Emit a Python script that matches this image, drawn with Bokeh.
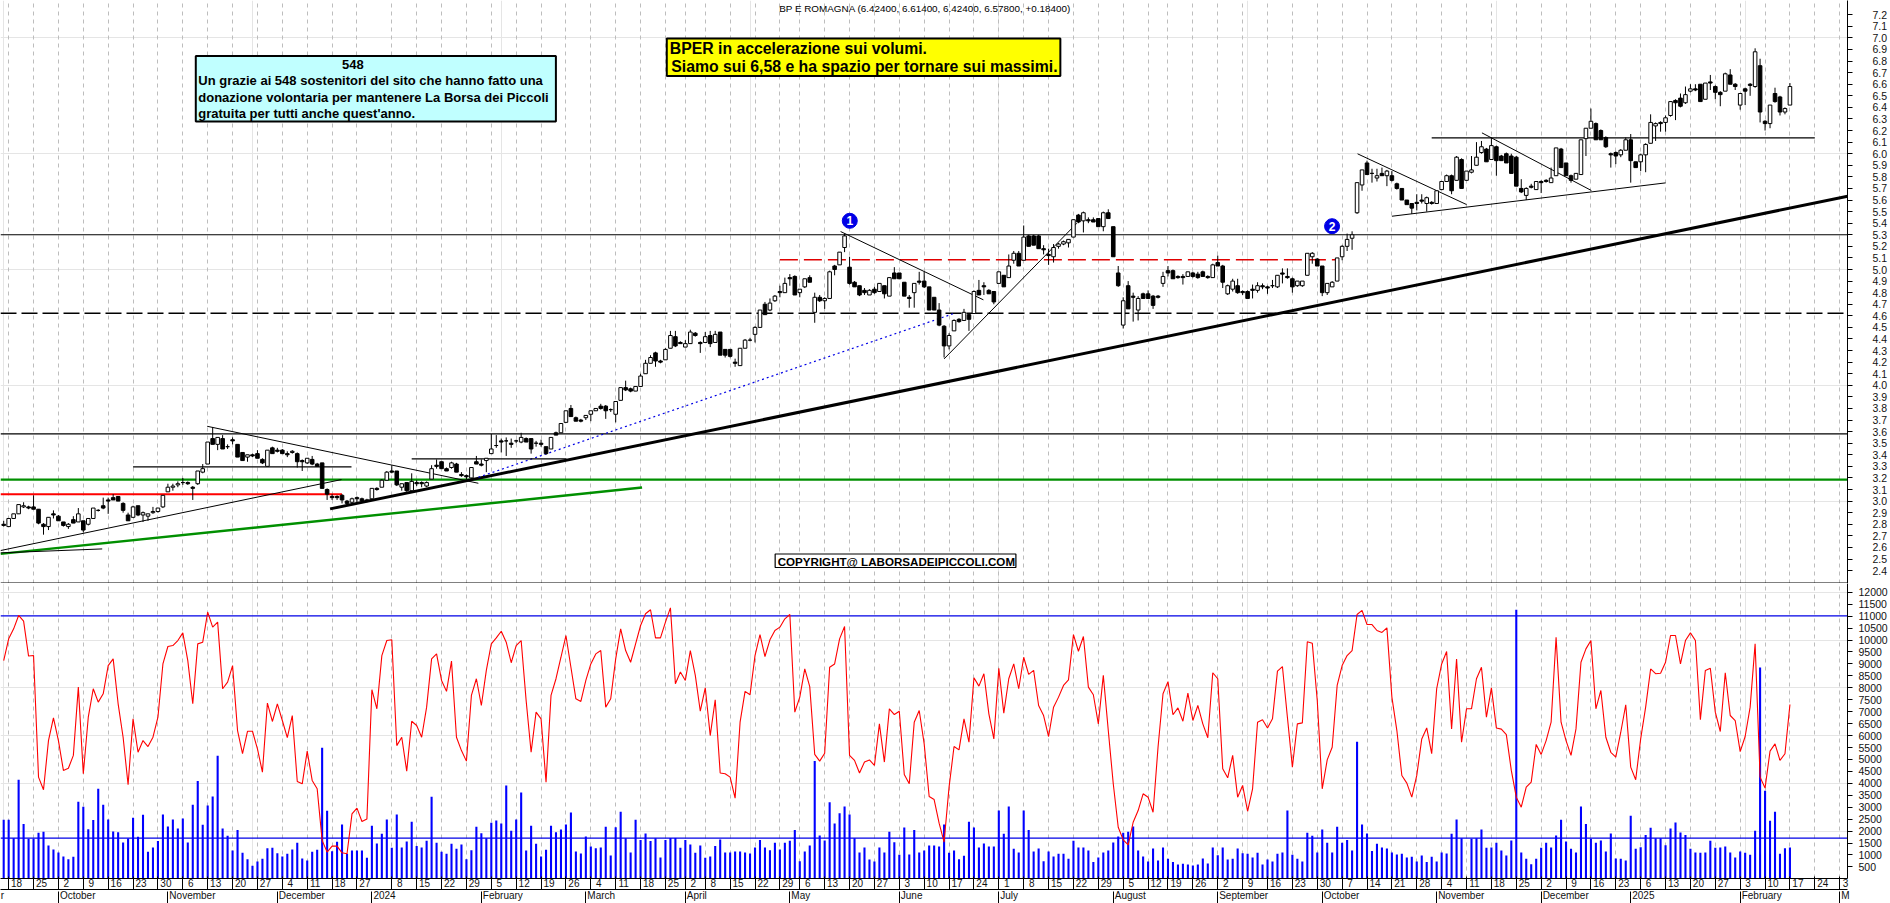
from bokeh.plotting import figure
from bokeh.layouts import column
from bokeh.models import Range1d, LinearAxis, FixedTicker, Grid, Span, BoxAnnotation, Label, NumeralTickFormatter
from bokeh.embed import file_html
from bokeh.resources import INLINE

opens = [2.80,2.78,2.85,2.89,2.95,2.95,2.95,2.93,2.80,2.78,
2.89,2.87,2.82,2.78,2.84,2.82,2.83,2.80,2.85,2.92,
2.96,3.01,3.03,3.04,2.98,2.88,2.86,2.96,2.88,2.87,
2.90,2.91,2.95,3.08,3.12,3.14,3.16,3.16,3.12,3.15,
3.25,3.32,3.54,3.49,3.54,3.47,3.53,3.49,3.42,3.38,
3.40,3.41,3.36,3.30,3.46,3.44,3.44,3.41,3.42,3.41,
3.35,3.33,3.36,3.32,3.33,3.10,3.04,3.04,3.05,3.00,
2.99,3.03,3.02,3.01,3.02,3.11,3.12,3.18,3.26,3.26,
3.12,3.16,3.09,3.16,3.16,3.13,3.19,3.31,3.34,3.28,
3.29,3.32,3.23,3.22,3.20,3.34,3.32,3.35,3.41,3.48,
3.52,3.52,3.50,3.52,3.51,3.54,3.54,3.50,3.50,3.47,
3.45,3.59,3.59,3.68,3.80,3.72,3.70,3.72,3.75,3.78,
3.82,3.82,3.79,3.75,3.87,3.98,3.97,3.95,3.99,4.10,
4.19,4.28,4.21,4.22,4.32,4.42,4.37,4.33,4.36,4.45,
4.37,4.37,4.43,4.37,4.46,4.31,4.31,4.20,4.17,4.32,
4.39,4.44,4.50,4.70,4.65,4.73,4.81,4.80,4.93,4.94,
4.80,4.85,4.93,4.63,4.76,4.73,4.75,5.03,5.04,5.19,
5.02,4.89,4.86,4.82,4.78,4.83,4.81,4.86,4.77,4.97,
4.97,4.89,4.76,4.80,4.90,4.90,4.85,4.76,4.65,4.51,
4.34,4.47,4.57,4.56,4.61,4.62,4.82,4.86,4.82,4.81,
4.88,4.95,4.93,5.08,5.14,5.08,5.29,5.29,5.29,5.18,
5.13,5.11,5.20,5.22,5.23,5.28,5.47,5.42,5.43,5.43,
5.44,5.37,5.49,5.37,4.97,4.52,4.86,4.77,4.65,4.79,
4.79,4.77,4.77,4.88,4.99,4.99,4.94,4.94,4.94,
4.97,4.96,4.98,4.94,4.93,5.06,5.03,4.79,4.83,4.86,
4.81,4.81,4.83,4.82,4.86,4.85,4.86,4.85,4.97,4.94,
4.92,4.86,4.86,4.95,5.11,5.09,5.03,4.80,4.85,4.90,
5.11,5.20,5.27,5.49,5.73,5.92,5.83,5.79,5.83,5.81,
5.81,5.74,5.70,5.60,5.57,5.58,5.60,5.57,5.58,5.57,
5.69,5.76,5.81,5.77,5.95,5.77,5.84,5.90,6.01,6.04,
5.95,6.06,5.98,6.00,5.98,5.97,5.70,5.64,5.72,5.69,
5.76,5.77,5.75,5.81,6.04,5.92,5.81,5.78,5.82,6.13,
6.22,6.26,6.20,6.14,6.00,6.01,5.99,6.03,6.12,5.93,
5.93,5.99,6.09,6.24,6.27,6.27,6.33,6.46,6.48,6.44,
6.54,6.56,6.60,6.47,6.62,6.58,6.53,6.54,6.68,6.60,
6.42,6.56,6.60,6.58,6.76,6.28,6.26,6.52,6.49,6.36,6.42]

highs = [2.83,2.85,2.89,2.97,2.99,2.96,3.05,2.93,2.81,2.86,
2.92,2.88,2.82,2.81,2.87,2.94,2.83,2.85,2.94,2.93,
3.03,3.03,3.06,3.04,2.99,2.90,2.96,2.96,2.91,2.89,
2.95,2.94,3.05,3.15,3.15,3.17,3.20,3.17,3.13,3.26,
3.32,3.51,3.64,3.55,3.57,3.49,3.55,3.49,3.42,3.40,
3.41,3.44,3.37,3.44,3.47,3.46,3.45,3.43,3.44,3.42,
3.36,3.37,3.39,3.33,3.33,3.11,3.06,3.05,3.06,3.01,
3.03,3.04,3.03,3.02,3.11,3.12,3.19,3.26,3.31,3.26,
3.15,3.16,3.24,3.18,3.17,3.17,3.31,3.36,3.34,3.29,
3.34,3.33,3.25,3.23,3.29,3.39,3.36,3.37,3.58,3.57,
3.54,3.55,3.54,3.53,3.59,3.55,3.54,3.52,3.53,3.47,
3.55,3.60,3.67,3.78,3.83,3.73,3.71,3.74,3.78,3.80,
3.84,3.83,3.80,3.86,3.98,4.04,3.98,3.99,4.10,4.22,
4.26,4.29,4.22,4.32,4.47,4.47,4.38,4.39,4.48,4.46,
4.38,4.46,4.47,4.47,4.46,4.31,4.31,4.23,4.32,4.40,
4.41,4.51,4.65,4.72,4.75,4.78,4.86,4.93,4.96,4.95,
4.83,4.92,4.95,4.80,4.78,4.76,4.99,5.04,5.15,5.31,
5.11,4.90,4.86,4.84,4.83,4.85,4.88,4.86,4.93,5.02,
4.97,4.89,4.78,4.88,4.98,4.98,4.85,4.76,4.71,4.52,
4.45,4.57,4.58,4.66,4.62,4.82,4.91,4.89,4.83,4.81,
4.98,4.95,5.13,5.16,5.16,5.38,5.30,5.30,5.30,5.21,
5.18,5.22,5.23,5.25,5.26,5.43,5.48,5.50,5.45,5.45,
5.44,5.50,5.52,5.37,5.03,4.76,4.90,4.80,4.77,4.80,
4.82,4.78,4.78,4.98,5.03,5.00,4.95,4.96,4.98,
4.98,4.98,4.99,4.95,5.05,5.12,5.04,4.87,4.92,4.92,
4.82,4.82,4.87,4.89,4.88,4.86,4.91,4.95,5.01,5.01,
4.93,4.90,4.90,5.14,5.15,5.10,5.03,4.88,4.90,5.10,
5.21,5.31,5.33,5.75,5.86,5.94,5.87,5.87,5.88,5.86,
5.85,5.75,5.70,5.60,5.57,5.65,5.65,5.63,5.59,5.68,
5.76,5.82,5.82,5.98,5.96,5.85,5.98,6.10,6.11,6.05,
6.14,6.07,5.99,6.01,6.00,5.98,5.78,5.71,5.74,5.76,
5.77,5.78,5.88,6.05,6.05,5.92,5.82,5.83,6.12,6.22,
6.39,6.27,6.21,6.15,6.01,6.02,6.04,6.14,6.17,5.93,
6.00,6.09,6.34,6.27,6.28,6.33,6.45,6.47,6.52,6.58,
6.60,6.60,6.60,6.61,6.68,6.59,6.54,6.70,6.73,6.61,
6.52,6.57,6.61,6.91,6.82,6.29,6.42,6.57,6.50,6.40,6.61]

lows = [2.78,2.78,2.85,2.89,2.94,2.93,2.93,2.80,2.71,2.75,
2.85,2.83,2.78,2.76,2.81,2.82,2.73,2.79,2.85,2.91,
2.93,2.89,3.01,3.00,2.90,2.83,2.86,2.87,2.82,2.83,
2.89,2.90,2.94,3.08,3.09,3.12,3.14,3.14,3.01,3.14,
3.24,3.32,3.49,3.44,3.45,3.45,3.49,3.38,3.35,3.34,
3.38,3.37,3.32,3.30,3.41,3.42,3.41,3.38,3.41,3.29,
3.26,3.32,3.31,3.30,3.11,3.01,3.01,3.01,2.98,2.97,
2.97,2.99,3.00,2.99,3.02,3.09,3.12,3.18,3.24,3.13,
3.09,3.08,3.09,3.13,3.12,3.12,3.19,3.28,3.28,3.26,
3.28,3.25,3.21,3.19,3.19,3.32,3.30,3.25,3.41,3.46,
3.42,3.39,3.46,3.50,3.50,3.51,3.41,3.47,3.47,3.40,
3.45,3.57,3.59,3.68,3.73,3.69,3.68,3.70,3.69,3.78,
3.79,3.71,3.77,3.68,3.87,3.95,3.94,3.95,3.99,4.10,
4.19,4.16,4.19,4.22,4.32,4.33,4.36,4.33,4.36,4.42,
4.28,4.37,4.33,4.37,4.26,4.24,4.24,4.16,4.17,4.32,
4.38,4.37,4.50,4.61,4.64,4.72,4.76,4.80,4.86,4.78,
4.76,4.84,4.89,4.54,4.72,4.66,4.75,4.95,5.04,5.15,
4.87,4.85,4.77,4.78,4.78,4.79,4.81,4.75,4.77,4.92,
4.92,4.77,4.67,4.67,4.87,4.84,4.65,4.65,4.51,4.24,
4.31,4.47,4.54,4.56,4.47,4.62,4.78,4.78,4.79,4.70,
4.88,4.85,4.93,5.05,5.03,5.08,5.20,5.21,5.18,5.13,
5.04,5.06,5.18,5.21,5.19,5.28,5.40,5.32,5.40,5.41,
5.37,5.33,5.44,5.11,4.85,4.49,4.66,4.55,4.56,4.75,
4.75,4.66,4.75,4.85,4.94,4.92,4.92,4.87,4.94,
4.93,4.92,4.94,4.92,4.93,5.03,4.84,4.78,4.81,4.79,
4.78,4.75,4.75,4.80,4.83,4.79,4.84,4.84,4.88,4.92,
4.80,4.85,4.85,4.95,5.05,5.03,4.77,4.78,4.85,4.90,
5.08,5.16,5.17,5.48,5.68,5.82,5.75,5.76,5.81,5.72,
5.76,5.69,5.60,5.56,5.48,5.51,5.57,5.50,5.56,5.57,
5.69,5.76,5.65,5.77,5.70,5.77,5.83,5.90,6.00,5.93,
5.95,5.81,5.94,5.92,5.83,5.72,5.66,5.60,5.70,5.69,
5.66,5.75,5.75,5.81,5.88,5.81,5.75,5.78,5.82,5.98,
6.22,6.12,6.12,6.05,5.88,5.91,5.97,6.03,5.75,5.88,
5.85,5.84,6.09,6.11,6.19,6.19,6.32,6.29,6.40,6.43,
6.53,6.54,6.45,6.47,6.55,6.47,6.41,6.54,6.60,6.55,
6.38,6.42,6.50,6.57,6.27,6.20,6.22,6.44,6.33,6.34,6.42]

closes = [2.79,2.85,2.89,2.97,2.96,2.94,2.93,2.81,2.78,2.86,
2.88,2.83,2.79,2.80,2.81,2.89,2.75,2.85,2.94,2.92,
2.94,3.00,3.01,3.00,2.92,2.83,2.95,2.88,2.90,2.89,
2.91,2.94,3.05,3.12,3.13,3.15,3.16,3.15,3.11,3.26,
3.28,3.51,3.49,3.55,3.45,3.47,3.52,3.38,3.35,3.40,
3.39,3.37,3.33,3.44,3.41,3.43,3.41,3.40,3.43,3.34,
3.34,3.37,3.32,3.30,3.11,3.06,3.03,3.03,3.01,2.98,
3.02,3.02,3.00,3.00,3.11,3.10,3.18,3.25,3.25,3.14,
3.15,3.09,3.17,3.15,3.15,3.16,3.28,3.30,3.28,3.26,
3.33,3.25,3.22,3.21,3.29,3.32,3.31,3.37,3.45,3.48,
3.51,3.52,3.49,3.52,3.55,3.51,3.45,3.50,3.49,3.41,
3.55,3.57,3.67,3.78,3.73,3.69,3.69,3.74,3.78,3.80,
3.80,3.78,3.79,3.86,3.98,3.96,3.95,3.99,4.08,4.19,
4.24,4.21,4.20,4.31,4.43,4.34,4.36,4.36,4.46,4.43,
4.36,4.42,4.36,4.44,4.26,4.26,4.25,4.19,4.32,4.39,
4.39,4.50,4.65,4.61,4.71,4.77,4.80,4.88,4.92,4.78,
4.83,4.92,4.89,4.76,4.73,4.75,4.98,5.00,5.15,5.29,
4.88,4.85,4.78,4.80,4.82,4.80,4.88,4.79,4.93,4.92,
4.92,4.77,4.75,4.88,4.89,4.85,4.65,4.65,4.52,4.34,
4.43,4.56,4.55,4.63,4.57,4.81,4.78,4.85,4.79,4.72,
4.98,4.85,5.03,5.14,5.03,5.28,5.20,5.21,5.18,5.17,
5.12,5.19,5.22,5.24,5.26,5.43,5.41,5.49,5.42,5.41,
5.37,5.49,5.44,5.11,4.86,4.73,4.66,4.76,4.75,4.75,
4.75,4.69,4.76,4.94,4.97,4.92,4.93,4.93,4.98,
4.94,4.93,4.94,4.93,5.04,5.03,4.89,4.86,4.90,4.80,
4.80,4.75,4.82,4.86,4.85,4.84,4.86,4.95,4.96,4.93,
4.85,4.90,4.90,5.14,5.14,5.03,4.80,4.88,4.89,5.10,
5.20,5.26,5.30,5.75,5.86,5.82,5.83,5.81,5.81,5.85,
5.77,5.70,5.60,5.56,5.53,5.57,5.59,5.62,5.57,5.68,
5.76,5.81,5.68,5.97,5.70,5.85,5.86,5.97,6.06,5.93,
6.07,5.94,5.94,5.92,5.83,5.72,5.67,5.70,5.71,5.76,
5.75,5.76,5.79,6.05,5.88,5.81,5.77,5.83,6.12,6.22,
6.28,6.12,6.12,6.06,5.99,5.98,6.03,6.12,5.94,5.88,
5.99,6.08,6.27,6.26,6.26,6.31,6.45,6.44,6.41,6.51,
6.56,6.55,6.45,6.61,6.61,6.53,6.51,6.69,6.60,6.58,
6.52,6.54,6.59,6.88,6.36,6.26,6.42,6.45,6.36,6.39,6.58]

volume_a = [2470,2470,1700,4150,2300,1680,1680,1930,1970,1400,1230,1100,935,820,920,3225,3015,2080,2460,3770,
3100,2485,1980,1950,1520,1690,2555,1760,2680,1130,1310,1580,2695,2190,2485,2110,2525,1520,3100,4100,
2260,3070,3450,5150,2110,1800,1190,2050,1090,820,545,725,840,1285,1300,1075,935,1050,1230,1510,
850,770,1130,1215,5490,2850,1160,1550,2275,1050,1190,1190,1190,880,2220,1480,1885,2485,1300,2695,
1310,1565,2390,1380,1310,1590,3435,1510,1130,1050,1465,1255,1440,820,1200,2180,1910,1700,2345,2440,
2320,3910,2010,2485,3615,1190,2220,1465,935,1215,2220,1950,2065,2275,2780,1145,1060,1775,1355,1285,
1310,2180,975,2165,2805,1700]
volume_b = [1100,2470,1630,1900,1580,1700,890,1630,1715,1715,1300,1630,1440,1090,1400,880,935,1380,1650,1100,
1100,1145,1145,1100,1060,1310,1630,1310,1200,1510,1230,1510,1590,2050,740,1145,1400,4940,1815,1605,
3210,2320,2750,3030,2695,1700,1100,1310,810,725,1310,1100,1970,1535,1005,2150,1020,2050,1100,1190,
1400,1400,1355,2275,1090,1190,820,965,2390,2150,1310,1480,1355,1355,2860,1885,3030,1255,1100,2860,
2050,1145,1270,740,1145,935,1050,1050,840,1590,1310,1310,1190,700,890,1100,1190,1520,1775,1925,
1970,2190,1190,935,725,1270,770,1310,840,700,600,630,600,560,600,850,640,1310,990,1310,
810,840,1270,1075,1050,890,1090]
volume_c = [600,810,725,1050,1100,2860,1005,840,725,1925,1800,1100,2065,1510,1100,2180,1510,1630,1190,5740,
2275,1900,1170,1465,1310,1270,1100,1020,1050,890,920,725,975,700,920,725,1100,1060,1885,2485,
1700,0,1675,1700,2065,1300,1310,1510,1190,975,1605,11270,1100,840,615,840,1300,1510,1310,1815,
2470,1565,1255,1100,3030,2300,1675,1510,1605,1145,1900,850,840,770,2640,1255,1325,1840,2135,1700,
1700,1410,2110,2360,1940,1840,1255,1100,1090,1100,1590,1300,1310,1355,1100,890,1145,1090,1005,2010,
8850,3685,2430,2805,1050,1285,1310]

indicator_a = [9140,10050,10470,11030,10790,9330,9350,4260,3730,5790,6740,5790,4540,4630,5170,8030,4400,6770,7960,7400,
7750,8930,9210,7330,5930,3940,6700,5300,5790,5540,5930,6770,9000,9730,9770,9980,10300,9140,7330,9840,
9910,11170,10540,10750,7960,8240,8930,6210,5240,6180,6180,5440,4470,7360,6590,7330,6630,5910,6840,4080,
3980,5350,4120,3770,1610,1120,1370,1370,1090,1050,2720,2960,2400,2510,7920,7120,9350,9980,10010,5580,
5930,4510,6600,6420,5930,7190,9210,9420,8310,7850,9120,5930,5370,4930,7680,8380,7260,8730,9840,10090,
10370,9910,9050,9770,9980,7470,5300,6980,6700,4050,7680,8380,9280,10190,8860,7540,7430,8310,9000,9420,
9560,7190,7540,9210,10470,9560]
indicator_b = [9070,9840,10610,11100,11270,10090,10090,10750,11350,8170,8660,8310,9560,8520,7020,8000,6000,7500,4430,4400,
4260,3380,6560,7850,7710,9350,10230,9310,10010,10400,10540,10890,11070,6980,7610,8790,8050,5210,4930,5260,
8860,9000,10050,10570,5170,4960,4430,4890,4980,4750,6490,4890,7120,6880,7020,4370,3980,6560,7050,5650,
3450,3320,2330,1540,3840,5540,5400,6700,5720,8420,8070,8590,6910,5860,8820,6940,8380,9000,7960,9280,
8560,8730,7260,6840,5960,7190,7610,8100,8330,10230,9530,10150,8030,7710,6490,8520,6210,3980,2160,1630,
1420,2370,2860,3560,3420,2790,5510,7750,8260,6870,7160,6600,7780,6630,7260,6490,5910,8630,8380,4610,
4230,5170,3420,3910,2830,3770,6560]
indicator_c = [6660,6320,6700,8700,8890,6770,4680,6490,6530,9930,9870,7470,3770,4980,5510,8100,8930,9350,9560,11070,
11240,10650,10650,10400,10320,10510,7610,6210,4330,4010,3420,4330,5860,6320,5240,7960,9000,9520,6280,9210,
5720,7120,7120,8380,8860,6770,8000,6320,6270,6040,4540,3420,3000,3840,4050,5630,5210,5790,6560,10120,
6560,5790,5170,6280,9070,9630,9980,7120,7890,5930,5300,5100,6140,7290,4680,4150,5860,7190,8790,8590,
8610,9070,10190,10190,9000,9980,10300,9980,6660,8730,8820,6980,6170,8630,6840,6630,5330,5960,7190,9840,
4260,3800,5350,5650,4960,5240,7300]

week_index = [1,6,11,16,21,26,31,36,41,46,51,56,61,66,71,78,83,88,93,98,103,108,113,118,123,
128,133,137,141,146,151,156,160,165,170,175,180,185,190,195,200,205,210,215,220,225,230,234,239,244,249,
254,259,264,269,274,279,284,289,294,299,304,309,314,319,324,329,334,339,344,349,354,359,364,369]
week_label = ["18","25","2","9","16","23","30","6","13","20","27","4","11","18","27","8","15","22","29","5","12","19","26","4","11",
"18","25","2","8","15","22","29","6","13","20","27","3","10","17","24","1","8","15","22","29","5","12","19","26","2","9",
"16","23","30","7","14","21","28","4","11","18","25","2","9","16","23","6","13","20","27","3","10","17","24","3"]
month_index = [11,33,55,74,96,117,137,158,180,200,223,244,265,288,309,327,349,369]
month_label = ["October","November","December","2024","February","March","April","May","June","July","August","September",
"October","November","December","2025","February","M"]
price_ticks = [round(2.4 + 0.1 * k, 1) for k in range(49)]
indicator_ticks = [500 * k for k in range(1, 25)]

resistance_price = 5.30
dashed_red_price = 5.085
support_dashed_price = 4.623
upper_flat_price = 3.58
green_flat_price = 3.186
red_flat_price = 3.059
pattern_flat_a = [26.0, 69.9, 3.295]
pattern_flat_b = [82.0, 113.1, 3.364]
pattern_flat_c = [287.0, 364.0, 6.137]
trend_green = [-0.64, 2.544, 128.3, 3.117]
trend_black = [65.6, 2.933, 370.6, 5.633]
thin_trends = [[-0.64, 2.573, 67.9, 3.186], [-0.64, 2.553, 19.8, 2.587], [40.9, 3.646, 95.4, 3.154],
               [168.2, 5.328, 196.9, 4.738], [189.0, 4.228, 215.7, 5.400], [272.1, 5.999, 294.0, 5.561],
               [279.0, 5.460, 334.0, 5.748], [297.1, 6.180, 319.1, 5.682]]
trend_blue = [95.4, 3.206, 191.1, 4.622]
upper_level = 11014
lower_level = 1703

assert len(opens) == len(highs) == len(lows) == len(closes) == 360
assert (len(volume_a), len(volume_b), len(volume_c)) == (126, 127, 107)
assert (len(indicator_a), len(indicator_b), len(indicator_c)) == (126, 127, 107)
assert len(week_index) == len(week_label)

volumes = volume_a + volume_b + volume_c
indicator = indicator_a + indicator_b + indicator_c
bars = list(range(360))

BAR_PX = 4.981
X0_PX = 3.2
XS = (0 - X0_PX) / BAR_PX
XE = (1849 - X0_PX) / BAR_PX
FONT = "Liberation Sans"
BLUE = "#0000E6"
GREEN = "#008F00"
INK = "#111111"


def xd(px):
    return (px - X0_PX) / BAR_PX


def yp(py):
    return 7.323 - py / 115.8


def yi(py):
    return (835 - (py - 600) * 3) * 13.96


def base_fig(height, y0, y1):
    f = figure(width=1890, height=height, x_range=Range1d(XS, XE), y_range=Range1d(y0, y1),
               x_axis_location=None, y_axis_location=None, toolbar_location=None, output_backend="svg",
               min_border_left=0, min_border_right=41, min_border_top=0, min_border_bottom=0)
    f.outline_line_color = None
    f.add_layout(Grid(dimension=0, ticker=FixedTicker(ticks=week_index), grid_line_color="#BDBDBD",
                      grid_line_dash="4 4", grid_line_width=1))
    return f


def right_axis(f, ticks, standoff, formatter=None):
    ax = LinearAxis(ticker=FixedTicker(ticks=ticks), major_tick_out=5, major_tick_in=0,
                    major_label_standoff=standoff, major_label_text_font=FONT,
                    major_label_text_font_size="10.5px", major_label_text_color=INK,
                    axis_line_color="black", major_tick_line_color="black",
                    minor_tick_line_color=None)
    if formatter:
        ax.formatter = formatter
    f.add_layout(ax, "right")


def note(f, text, x, y, size, bold=True, align="left", color="black"):
    f.add_layout(Label(x=x, y=y, text=text, text_font=FONT, text_font_size=size,
                       text_font_style="bold" if bold else "normal", text_align=align,
                       text_baseline="middle", text_color=color))


def panel_box(f, fy, left, right, top, bottom, fill, width):
    f.add_layout(BoxAnnotation(left=xd(left), right=xd(right), top=fy(top), bottom=fy(bottom),
                               fill_color=fill, fill_alpha=1, line_color="black", line_width=width,
                               line_alpha=1))


# price panel
p1 = base_fig(583, yp(583), yp(0))
right_axis(p1, price_ticks, 20, NumeralTickFormatter(format="0.0"))

for level, color, w, dash in [(resistance_price, "black", 1.2, "solid"),
                              (support_dashed_price, "black", 1.5, "16 5"),
                              (upper_flat_price, "black", 1.2, "solid"),
                              (green_flat_price, GREEN, 2.2, "solid")]:
    p1.line([XS, XE], [level, level], line_color=color, line_width=w, line_dash=dash)
p1.line([156.0, 268.0], [dashed_red_price] * 2, line_color="#E00000", line_width=1.5, line_dash="18 6")
p1.line([XS, 68.0], [red_flat_price] * 2, line_color="#FF0000", line_width=2.2)
p1.line(trend_green[0::2], trend_green[1::2], line_color=GREEN, line_width=2.4)
p1.line(trend_black[0::2], trend_black[1::2], line_color="black", line_width=3)
for t in thin_trends:
    p1.line(t[0::2], t[1::2], line_color="black", line_width=1)
p1.line(trend_blue[0::2], trend_blue[1::2], line_color=BLUE, line_width=1.2, line_dash="2 3")
for a, b, lv in (pattern_flat_a, pattern_flat_b, pattern_flat_c):
    p1.line([a, b], [lv, lv], line_color="black", line_width=1.2)

p1.segment(bars, lows, bars, highs, line_color="black", line_width=1)
up = [i for i in bars if closes[i] >= opens[i]]
down = [i for i in bars if closes[i] < opens[i]]
p1.vbar([i for i in up], width=0.72, top=[closes[i] for i in up], bottom=[opens[i] for i in up],
        fill_color="white", line_color="black", line_width=1)
p1.vbar([i for i in down], width=0.72, top=[opens[i] for i in down], bottom=[closes[i] for i in down],
        fill_color="black", line_color="black", line_width=1)

p1.scatter([xd(850.2), xd(1333)], [yp(220.3), yp(225.7)], size=15, marker="circle",
           fill_color=BLUE, line_color=BLUE)
note(p1, "1", xd(850.2), yp(220.3), "12px", align="center", color="white")
note(p1, "2", xd(1333), yp(225.7), "12px", align="center", color="white")

p1.add_layout(Span(location=yp(582.5), dimension="width", line_color="black", line_width=1))

note(p1, "BP E ROMAGNA (6.42400, 6.61400, 6.42400, 6.57800, +0.18400)", xd(779.5), yp(8.3), "9.9px", bold=False)

panel_box(p1, yp, 195.5, 556, 55.5, 121, "#C0FFFF", 2)
note(p1, "548", xd(352.8), yp(64), "13px", align="center")
note(p1, "Un grazie ai 548 sostenitori del sito che hanno fatto una", xd(198), yp(80.3), "13px")
note(p1, "donazione volontaria per mantenere La Borsa dei Piccoli", xd(198), yp(97.3), "13px")
note(p1, "gratuita per tutti anche quest'anno.", xd(198), yp(113.3), "13px")

panel_box(p1, yp, 667, 1061, 38, 75.5, "#FFFF00", 2)
note(p1, "BPER in accelerazione sui volumi.", xd(670), yp(47.7), "15.8px")
note(p1, "Siamo sui 6,58 e ha spazio per tornare sui massimi.", xd(671.5), yp(66.3), "15.8px")

panel_box(p1, yp, 775.5, 1016.5, 553.5, 567, "white", 1.2)
note(p1, "COPYRIGHT@ LABORSADEIPICCOLI.COM", xd(778), yp(561), "11.6px")

# indicator panel
p2 = base_fig(320, yi(878), yi(583))
right_axis(p2, indicator_ticks, 6)

p2.line([XS, XE], [upper_level] * 2, line_color=BLUE, line_width=1.3)
p2.line([XS, XE], [lower_level] * 2, line_color=BLUE, line_width=1.3)
p2.vbar(bars, width=0.42, top=volumes, bottom=yi(878), fill_color="#0000FF", line_color=None)
p2.line(bars, indicator, line_color="#FF0000", line_width=1.1)
p2.add_layout(Label(x=xd(1851), y=yi(873), text="x10000", text_font=FONT, text_font_size="8px",
                    text_color="#555555", text_baseline="middle", border_line_color="#888888"))

EM = {"October": 3.557, "November": 4.612, "December": 4.612, "2024": 2.224, "2025": 2.224, "February": 4.001,
      "March": 2.778, "April": 2.0, "May": 1.889, "June": 2.168, "July": 1.778, "August": 3.113,
      "September": 4.891, "M": 0.833}
DATE_SIZE = 10.0


def date_axis(ticks, overrides, tick_in=0, line=None, tick=None, size="10px"):
    return LinearAxis(ticker=FixedTicker(ticks=ticks), major_tick_in=tick_in, major_tick_out=0,
                      major_label_standoff=0, axis_line_color=line, major_tick_line_color=tick,
                      minor_tick_line_color=None, major_label_text_font=FONT,
                      major_label_text_color=INK, major_label_text_font_size=size,
                      major_label_overrides=overrides)


day_pos = [min(i + 1.6, XE - 0.4) for i in week_index]
month_pos = [i + (1.5 + 0.5 * DATE_SIZE * EM[m]) / BAR_PX for i, m in zip(month_index, month_label)]
left_tail = XS + 0.4

p2.add_layout(date_axis(day_pos, dict(zip(day_pos, week_label)), line="black"), "below")
p2.add_layout(date_axis(week_index, {i: "" for i in week_index}, tick_in=13, line="black", tick="black", size="1px"), "below")
p2.add_layout(date_axis([left_tail] + month_pos, dict(zip([left_tail] + month_pos, ["r"] + month_label))), "below")
p2.add_layout(date_axis(month_index, {i: "" for i in month_index}, tick_in=12, tick="black", size="1px"), "below")

root = column(p1, p2, spacing=0)

open("out.html", "w").write(file_html(root, INLINE))
